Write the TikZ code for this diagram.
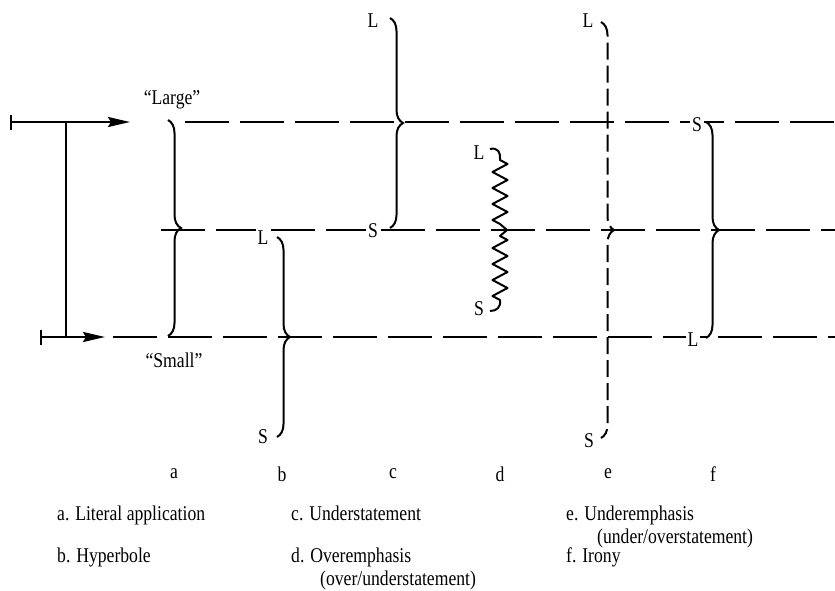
\documentclass[tikz,border=0pt]{standalone}
\usepackage{fontspec}
\setmainfont{Liberation Serif}[FakeStretch=0.84]
\usetikzlibrary{decorations.pathreplacing,decorations.pathmorphing,arrows.meta}
\begin{document}
\begin{tikzpicture}[x=1pt,y=-1pt,
  every node/.style={font=\fontsize{21}{24}\selectfont, inner sep=1pt},
  ln/.style={line width=2.2pt},
  dline/.style={line width=2.2pt, dash pattern=on 44pt off 11pt},
  brc/.style={line width=2pt, decorate, decoration={brace, amplitude=13pt}},
  dbrc/.style={line width=2pt, dash pattern=on 17pt off 6pt, decorate, decoration={brace, amplitude=13pt}},
  lab/.style={fill=white, inner sep=2pt},
  legend/.style={anchor=base west, inner sep=0pt},
]
\useasboundingbox (0,0) rectangle (835,590);
% arrows
\coordinate (t0) at (10,122); \coordinate (t1) at (130,122);
\coordinate (b0) at (40,337); \coordinate (b1) at (105,337);
\coordinate (v0) at (66,122); \coordinate (v1) at (66,337);
\draw[ln, {Bar[width=15pt]}-{Stealth[length=22pt,width=10pt,inset=3pt]}] (t0) -- (t1);
\draw[ln, {Bar[width=15pt]}-{Stealth[length=22pt,width=10pt,inset=3pt]}] (b0) -- (b1);
\draw[ln] (v0) -- (v1);
\node (large) at (172,100) {“Large”};
\node (small) at (174,360) {“Small”};
% dashed lines
\coordinate (ts) at (185,122); \coordinate (te) at (835,122);
\coordinate (ms) at (161,230); \coordinate (me) at (835,230);
\coordinate (bs) at (113,337); \coordinate (be) at (835,337);
\draw[dline] (ts) -- (te);
\draw[dline] (ms) -- (me);
\draw[dline] (bs) -- (be);
% labels
\node[lab] (Lb) at (263,238) {L};
\node[lab] (Sb) at (263,437) {S};
\node[lab] (Lc) at (373,21) {L};
\node[lab] (Sc) at (373,231) {S};
\node[lab] (Ld) at (479,153) {L};
\node[lab] (Sd) at (479,309) {S};
\node[lab] (Le) at (588,21) {L};
\node[lab] (Se) at (589,441) {S};
\node[lab] (Sf) at (697,125) {S};
\node[lab] (Lf) at (693,340) {L};
% braces
\coordinate (a0) at (168,120); \coordinate (a1) at (168,336);
\coordinate (bb0) at (277,237); \coordinate (bb1) at (277,437);
\coordinate (c0) at (390,18); \coordinate (c1) at (390,228);
\coordinate (e0) at (601,22); \coordinate (e1) at (601,438);
\coordinate (f0) at (706,122); \coordinate (f1) at (706,338);
\draw[brc] (a0) -- (a1);
\draw[brc] (bb0) -- (bb1);
\draw[brc] (c0) -- (c1);
\draw[dbrc] (e0) -- (e1);
\draw[brc] (f0) -- (f1);
% wavy brace d
\coordinate (d0) at (490,149); \coordinate (d1) at (490,311);
\draw[line width=2pt, line join=round] (d0) .. controls (498,147) and (501,153) .. (500,160)
  decorate[decoration={zigzag,amplitude=7.5pt,segment length=16pt}]{ -- (500,224)} -- (507,230) -- (500,236)
  decorate[decoration={zigzag,amplitude=7.5pt,segment length=16pt}]{ -- (500,300)}
  .. controls (501,307) and (497,311) .. (d1);
% letters
\node (la) at (174,474) {a};
\node (lb) at (282,474) {b};
\node (lc) at (393,474) {c};
\node (ld) at (500,474) {d};
\node (le) at (608,474) {e};
\node (lf) at (713,474) {f};
% legend
\node[legend] (ga) at (57,520) {a. Literal application};
\node[legend] (gb) at (57,562) {b. Hyperbole};
\node[legend] (gc) at (291,520) {c. Understatement};
\node[legend] (gd) at (291,562) {d. Overemphasis};
\node[legend] (gd2) at (320,585) {(over/understatement)};
\node[legend] (ge) at (566,520) {e. Underemphasis};
\node[legend] (ge2) at (597,543) {(under/overstatement)};
\node[legend] (gf) at (566,562) {f. Irony};
\end{tikzpicture}
\end{document}
